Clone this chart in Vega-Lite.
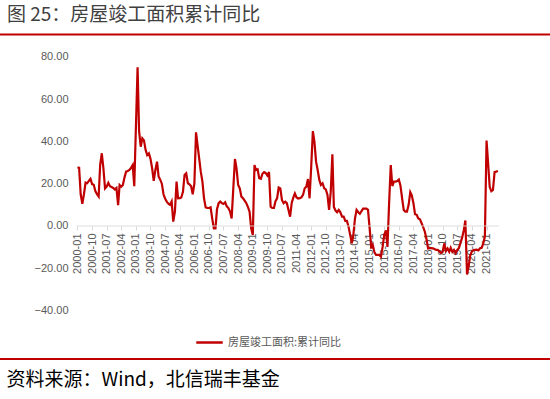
{
"$schema": "https://vega.github.io/schema/vega-lite/v6.json",
"width": 550, "height": 399, "autosize": "none", "padding": 0, "background": "white",
"title": {"text": "图 25：房屋竣工面积累计同比", "anchor": "start", "frame": "group", "dx": 7, "offset": -25, "fontSize": 19, "fontWeight": "normal", "color": "#404040", "font": "Noto Sans CJK SC"},
"config": {"view": {"stroke": null}, "axis": {"grid": false}},
"data": {"values": [
{"date":"2000-01","v":27.7},{"date":"2000-02","v":27.5},{"date":"2000-03","v":15},{"date":"2000-04","v":10.5},{"date":"2000-05","v":15},{"date":"2000-06","v":20.5},{"date":"2000-07","v":20.2},{"date":"2000-08","v":21.3},{"date":"2000-09","v":22.3},{"date":"2000-10","v":19.8},{"date":"2000-11","v":19.5},{"date":"2000-12","v":16.5},
{"date":"2001-01","v":15},{"date":"2001-02","v":13.9},{"date":"2001-03","v":28.8},{"date":"2001-04","v":34.4},{"date":"2001-05","v":27.3},{"date":"2001-06","v":17.8},{"date":"2001-07","v":18.6},{"date":"2001-08","v":20.4},{"date":"2001-09","v":18.8},{"date":"2001-10","v":18.4},{"date":"2001-11","v":18},{"date":"2001-12","v":17.3},
{"date":"2002-01","v":18},{"date":"2002-02","v":9.9},{"date":"2002-03","v":19.4},{"date":"2002-04","v":18.6},{"date":"2002-05","v":19.4},{"date":"2002-06","v":23},{"date":"2002-07","v":25.7},{"date":"2002-08","v":26},{"date":"2002-09","v":26.5},{"date":"2002-10","v":27.5},{"date":"2002-11","v":28.8},{"date":"2002-12","v":18.8},
{"date":"2003-01","v":47},{"date":"2003-02","v":75},{"date":"2003-03","v":45},{"date":"2003-04","v":37.5},{"date":"2003-05","v":41.5},{"date":"2003-06","v":40.5},{"date":"2003-07","v":36},{"date":"2003-08","v":33.5},{"date":"2003-09","v":34.3},{"date":"2003-10","v":31.8},{"date":"2003-11","v":27.3},{"date":"2003-12","v":21.3},
{"date":"2004-01","v":26.5},{"date":"2004-02","v":30.4},{"date":"2004-03","v":23.4},{"date":"2004-04","v":21.9},{"date":"2004-05","v":20},{"date":"2004-06","v":15},{"date":"2004-07","v":13},{"date":"2004-08","v":11.5},{"date":"2004-09","v":10.5},{"date":"2004-10","v":10},{"date":"2004-11","v":11.6},{"date":"2004-12","v":2.1},
{"date":"2005-01","v":6.8},{"date":"2005-02","v":21},{"date":"2005-03","v":13.1},{"date":"2005-04","v":13.2},{"date":"2005-05","v":13.5},{"date":"2005-06","v":16.2},{"date":"2005-07","v":24.1},{"date":"2005-08","v":24.9},{"date":"2005-09","v":20.2},{"date":"2005-10","v":19.7},{"date":"2005-11","v":18.8},{"date":"2005-12","v":15},
{"date":"2006-01","v":20},{"date":"2006-02","v":44.3},{"date":"2006-03","v":38.3},{"date":"2006-04","v":32},{"date":"2006-05","v":25.7},{"date":"2006-06","v":21},{"date":"2006-07","v":13.1},{"date":"2006-08","v":8.8},{"date":"2006-09","v":8.5},{"date":"2006-10","v":8.5},{"date":"2006-11","v":8.8},{"date":"2006-12","v":3.6},
{"date":"2007-01","v":-1.1},{"date":"2007-02","v":-1.1},{"date":"2007-03","v":8},{"date":"2007-04","v":10.8},{"date":"2007-05","v":11.6},{"date":"2007-06","v":10.8},{"date":"2007-07","v":10.4},{"date":"2007-08","v":11.2},{"date":"2007-09","v":9.3},{"date":"2007-10","v":8.5},{"date":"2007-11","v":6.8},{"date":"2007-12","v":3.6},
{"date":"2008-01","v":17.8},{"date":"2008-02","v":31.7},{"date":"2008-03","v":27.3},{"date":"2008-04","v":19.4},{"date":"2008-05","v":17.8},{"date":"2008-06","v":13.9},{"date":"2008-07","v":13.1},{"date":"2008-08","v":12},{"date":"2008-09","v":10.8},{"date":"2008-10","v":9},{"date":"2008-11","v":6.8},{"date":"2008-12","v":-1.1},
{"date":"2009-01","v":-4.3},{"date":"2009-02","v":28.8},{"date":"2009-03","v":26.5},{"date":"2009-04","v":26.8},{"date":"2009-05","v":22.6},{"date":"2009-06","v":22.3},{"date":"2009-07","v":24.7},{"date":"2009-08","v":25.5},{"date":"2009-09","v":25},{"date":"2009-10","v":23.9},{"date":"2009-11","v":25.5},{"date":"2009-12","v":9.1},
{"date":"2010-01","v":8.5},{"date":"2010-02","v":8.5},{"date":"2010-03","v":11.6},{"date":"2010-04","v":13.1},{"date":"2010-05","v":18.2},{"date":"2010-06","v":17.8},{"date":"2010-07","v":12.3},{"date":"2010-08","v":10.8},{"date":"2010-09","v":11.5},{"date":"2010-10","v":10.8},{"date":"2010-11","v":7.6},{"date":"2010-12","v":4.4},
{"date":"2011-01","v":11},{"date":"2011-02","v":13.5},{"date":"2011-03","v":15.4},{"date":"2011-04","v":13.5},{"date":"2011-05","v":13},{"date":"2011-06","v":13.2},{"date":"2011-07","v":13.5},{"date":"2011-08","v":14.7},{"date":"2011-09","v":17.8},{"date":"2011-10","v":18.6},{"date":"2011-11","v":22.2},{"date":"2011-12","v":13.1},
{"date":"2012-01","v":28},{"date":"2012-02","v":44.9},{"date":"2012-03","v":39.9},{"date":"2012-04","v":30.4},{"date":"2012-05","v":26.5},{"date":"2012-06","v":21.8},{"date":"2012-07","v":19.4},{"date":"2012-08","v":20.2},{"date":"2012-09","v":17.8},{"date":"2012-10","v":17.3},{"date":"2012-11","v":14.7},{"date":"2012-12","v":7.6},
{"date":"2013-01","v":16},{"date":"2013-02","v":33.9},{"date":"2013-03","v":9},{"date":"2013-04","v":7.3},{"date":"2013-05","v":6.5},{"date":"2013-06","v":7.6},{"date":"2013-07","v":6.5},{"date":"2013-08","v":4.4},{"date":"2013-09","v":4.4},{"date":"2013-10","v":2.4},{"date":"2013-11","v":2.4},{"date":"2013-12","v":-0.3},
{"date":"2014-01","v":-4.3},{"date":"2014-02","v":-8.2},{"date":"2014-03","v":-4.3},{"date":"2014-04","v":3.6},{"date":"2014-05","v":7.6},{"date":"2014-06","v":6.5},{"date":"2014-07","v":5.8},{"date":"2014-08","v":7},{"date":"2014-09","v":8.2},{"date":"2014-10","v":8.2},{"date":"2014-11","v":8.2},{"date":"2014-12","v":7.6},
{"date":"2015-01","v":-1.1},{"date":"2015-02","v":-10.6},{"date":"2015-03","v":-9},{"date":"2015-04","v":-12.5},{"date":"2015-05","v":-13.7},{"date":"2015-06","v":-13.7},{"date":"2015-07","v":-13.7},{"date":"2015-08","v":-14.5},{"date":"2015-09","v":-9.9},{"date":"2015-10","v":-4.3},{"date":"2015-11","v":-2},{"date":"2015-12","v":-9.9},
{"date":"2016-01","v":11},{"date":"2016-02","v":28.8},{"date":"2016-03","v":18.9},{"date":"2016-04","v":21},{"date":"2016-05","v":21},{"date":"2016-06","v":21.3},{"date":"2016-07","v":22},{"date":"2016-08","v":19},{"date":"2016-09","v":13.1},{"date":"2016-10","v":7.6},{"date":"2016-11","v":6.8},{"date":"2016-12","v":6.8},
{"date":"2017-01","v":10},{"date":"2017-02","v":16},{"date":"2017-03","v":14.5},{"date":"2017-04","v":10.8},{"date":"2017-05","v":5.6},{"date":"2017-06","v":5.3},{"date":"2017-07","v":3.6},{"date":"2017-08","v":3.2},{"date":"2017-09","v":1.3},{"date":"2017-10","v":-0.5},{"date":"2017-11","v":-2.7},{"date":"2017-12","v":-6},
{"date":"2018-01","v":-10.6},{"date":"2018-02","v":-10.5},{"date":"2018-03","v":-10.5},{"date":"2018-04","v":-10.6},{"date":"2018-05","v":-10.9},{"date":"2018-06","v":-11.3},{"date":"2018-07","v":-11.3},{"date":"2018-08","v":-12},{"date":"2018-09","v":-12.8},{"date":"2018-10","v":-12.2},{"date":"2018-11","v":-8.2},{"date":"2018-12","v":-11.8},
{"date":"2019-01","v":-10.6},{"date":"2019-02","v":-12.2},{"date":"2019-03","v":-10.3},{"date":"2019-04","v":-12.2},{"date":"2019-05","v":-11.3},{"date":"2019-06","v":-12.8},{"date":"2019-07","v":-11.3},{"date":"2019-08","v":-10.5},{"date":"2019-09","v":-8},{"date":"2019-10","v":-5.5},{"date":"2019-11","v":-2},{"date":"2019-12","v":2.6},
{"date":"2020-01","v":-22.9},{"date":"2020-02","v":-19},{"date":"2020-03","v":-14},{"date":"2020-04","v":-12},{"date":"2020-05","v":-11.4},{"date":"2020-06","v":-11.3},{"date":"2020-07","v":-11.2},{"date":"2020-08","v":-11.5},{"date":"2020-09","v":-10.5},{"date":"2020-10","v":-10.3},{"date":"2020-11","v":-8.2},{"date":"2020-12","v":-5},
{"date":"2021-01","v":40.4},{"date":"2021-02","v":29},{"date":"2021-03","v":18.5},{"date":"2021-04","v":16.4},{"date":"2021-05","v":17},{"date":"2021-06","v":25.5},{"date":"2021-07","v":25.7},{"date":"2021-08","v":26}
]},
"layer": [
{"mark": {"type": "line", "strokeWidth": 2.2, "interpolate": "linear"}, "encoding": {
  "x": {"field": "date", "type": "temporal",
    "scale": {"type": "utc", "domain": [{"year": 1996, "month": 1, "date": 9, "utc": true}, {"year": 2024, "month": 4, "date": 5, "utc": true}]},
    "axis": {"orient": "bottom", "offset": -173, "labelExpr": "utcFormat(datum.value, '%Y-%m')", "tickCount": 100,
      "values": [{"year":2000,"month":1,"date":1,"utc":true},{"year":2000,"month":10,"date":1,"utc":true},{"year":2001,"month":7,"date":1,"utc":true},{"year":2002,"month":4,"date":1,"utc":true},{"year":2003,"month":1,"date":1,"utc":true},{"year":2003,"month":10,"date":1,"utc":true},{"year":2004,"month":7,"date":1,"utc":true},{"year":2005,"month":4,"date":1,"utc":true},{"year":2006,"month":1,"date":1,"utc":true},{"year":2006,"month":10,"date":1,"utc":true},{"year":2007,"month":7,"date":1,"utc":true},{"year":2008,"month":4,"date":1,"utc":true},{"year":2009,"month":1,"date":1,"utc":true},{"year":2009,"month":10,"date":1,"utc":true},{"year":2010,"month":7,"date":1,"utc":true},{"year":2011,"month":4,"date":1,"utc":true},{"year":2012,"month":1,"date":1,"utc":true},{"year":2012,"month":10,"date":1,"utc":true},{"year":2013,"month":7,"date":1,"utc":true},{"year":2014,"month":4,"date":1,"utc":true},{"year":2015,"month":1,"date":1,"utc":true},{"year":2015,"month":10,"date":1,"utc":true},{"year":2016,"month":7,"date":1,"utc":true},{"year":2017,"month":4,"date":1,"utc":true},{"year":2018,"month":1,"date":1,"utc":true},{"year":2018,"month":10,"date":1,"utc":true},{"year":2019,"month":7,"date":1,"utc":true},{"year":2020,"month":4,"date":1,"utc":true},{"year":2021,"month":1,"date":1,"utc":true}],
      "labelAngle": 270, "labelAlign": "right", "labelBaseline": "middle", "labelFontSize": 11, "labelColor": "#595959", "labelFont": "Liberation Sans", "labelPadding": 3,
      "labelOverlap": false, "labelBound": false, "labelFlush": false,
      "ticks": true, "tickSize": 4, "tickColor": "#d9d9d9", "domain": false, "grid": false,
      "title": "资料来源：Wind，北信瑞丰基金", "titleX": 6, "titleY": 153, "titleAlign": "left", "titleBaseline": "middle", "titleAngle": 0,
      "titleFontSize": 19, "titleFontWeight": "normal", "titleColor": "#000000", "titleFont": "Noto Sans CJK SC"}},
  "y": {"field": "v", "type": "quantitative",
    "scale": {"domain": [-81.8, 106.86], "nice": false, "zero": false},
    "axis": {"orient": "left", "offset": -70, "values": [-40, -20, 0, 20, 40, 60, 80], "format": ".2f",
      "labelFontSize": 11, "labelColor": "#595959", "labelFont": "Liberation Sans", "labelPadding": 2,
      "ticks": false, "tickSize": 0, "domain": false, "grid": false, "title": null}},
  "color": {"datum": "房屋竣工面积:累计同比", "scale": {"range": ["#c00000"]},
    "legend": {"title": null, "orient": "none", "legendX": 195, "legendY": 328, "symbolType": "stroke", "symbolStrokeWidth": 2.5, "symbolSize": 700,
      "labelFontSize": 11, "labelColor": "#595959", "labelFont": "Noto Sans CJK SC", "padding": 0, "labelOffset": 4}}
}},
{"data": {"values": [{}]}, "mark": {"type": "rule", "color": "#c00000", "strokeWidth": 2}, "encoding": {"y": {"datum": 90.55, "type": "quantitative"}}},
{"data": {"values": [{}]}, "mark": {"type": "rule", "color": "#c00000", "strokeWidth": 2}, "encoding": {"y": {"datum": -62.89, "type": "quantitative"}}},
{"data": {"values": [{}]}, "mark": {"type": "rule", "color": "#d9d9d9", "strokeWidth": 1, "opacity": 0.9}, "encoding": {
  "y": {"datum": 0, "type": "quantitative"},
  "x": {"datum": {"year": 1999, "month": 12, "date": 16, "utc": true}, "type": "temporal"},
  "x2": {"datum": {"year": 2021, "month": 8, "date": 20, "utc": true}}}}
]
}
